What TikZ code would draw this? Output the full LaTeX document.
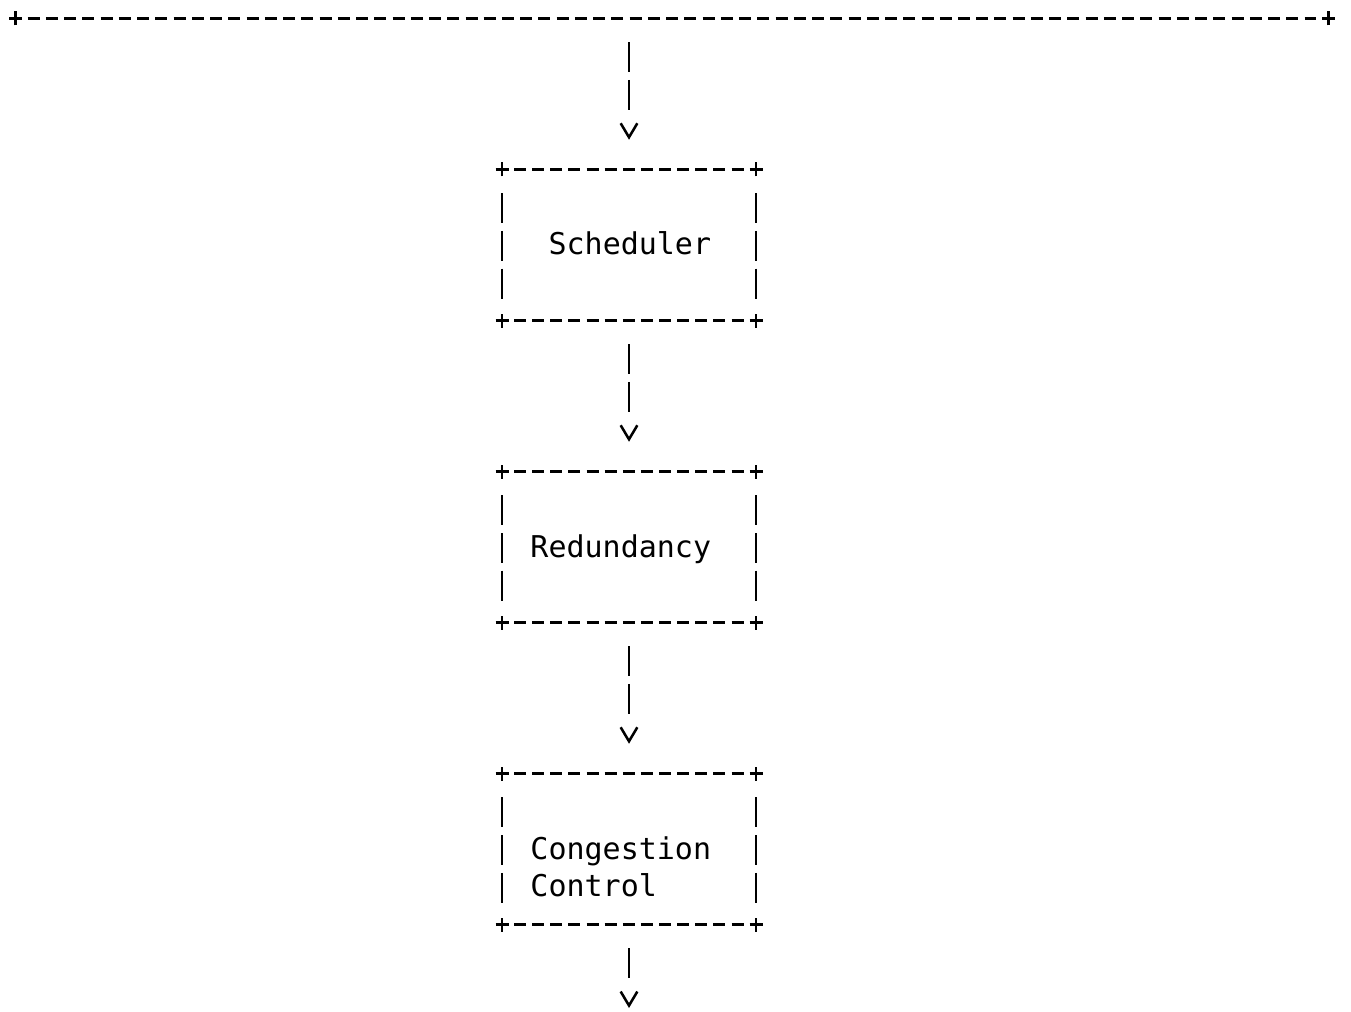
\documentclass[tikz,border=0pt]{standalone}
\usepackage{fontspec}
\newfontfamily\monofont{DejaVu Sans Mono}
\usetikzlibrary{arrows.meta,calc}

\tikzset{every picture/.style={line width=1.9pt}}
\tikzset{
  blk/.style={rectangle, minimum width=190.5pt, minimum height=113.25pt, inner sep=0pt, outer sep=0pt},
  lbl/.style={anchor=base west, inner sep=0pt, font=\monofont\fontsize{22.5pt}{28.3pt}\selectfont},
  hdash/.style={dash pattern=on 9pt off 4.6pt},
  vdash/.style={dash pattern=on 22.5pt off 5.81pt},
  arr/.style={-{Straight Barb[length=10.5pt,width=12.5pt,line width=1.9pt]}, dash pattern=on 22.5pt off 5.81pt on 22.5pt off 30pt, shorten <=17.81pt, shorten >=22.31pt},
  crnr/.pic={\draw (-6.5,0) -- (6.5,0) (0,-7) -- (0,7);}
}

\begin{document}
\begin{tikzpicture}[x=0.75pt,y=0.75pt,yscale=-1,xscale=1]
\useasboundingbox (0,0) rectangle (1351,1012);

%Top line
\coordinate (tl) at (15.5,18.5);
\coordinate (tr) at (1328.5,18.5);
\coordinate (top) at (629,18.5);
\draw [dash pattern=on 9pt off 4.68pt] ($(tl)+(12.24,0)$) -- ($(tr)+(-12.24,0)$);
\pic at (tl) {crnr};
\pic at (tr) {crnr};

%Shape: Rectangle
\node [blk] (sched) at (629,245) {};
\node [blk] (redun) at (629,547) {};
\node [blk] (cong) at (629,849) {};
\foreach \b in {sched,redun,cong}{
  \draw [hdash] ($(\b.north west)+(12,0)$) -- ($(\b.north east)+(-12,0)$);
  \draw [hdash] ($(\b.south west)+(12,0)$) -- ($(\b.south east)+(-12,0)$);
  \draw [vdash] ($(\b.north west)+(0,23.75)$) -- ($(\b.south west)+(0,-21.75)$);
  \draw [vdash] ($(\b.north east)+(0,23.75)$) -- ($(\b.south east)+(0,-21.75)$);
  \foreach \c in {north west,north east,south west,south east}
    \pic at (\b.\c) {crnr};
}

% Text Node
\node [lbl] (schedtxt) at (547.3,255) {Scheduler};
% Text Node
\node [lbl] (reduntxt) at (529.2,557) {Redundancy};
% Text Node
\node [lbl] (congtxt) at (529.2,859) {Congestion};
% Text Node
\node [lbl] (ctrltxt) at (529.2,896.75) {Control};

%Straight Lines
\draw [arr] (top) -- (sched);
\draw [arr] (sched) -- (redun);
\draw [arr] (redun) -- (cong);
\coordinate (out) at (629,1008);
\draw [arr, dash pattern=on 22.5pt off 40pt, shorten >=0pt] (cong) -- (out);

\end{tikzpicture}
\end{document}
